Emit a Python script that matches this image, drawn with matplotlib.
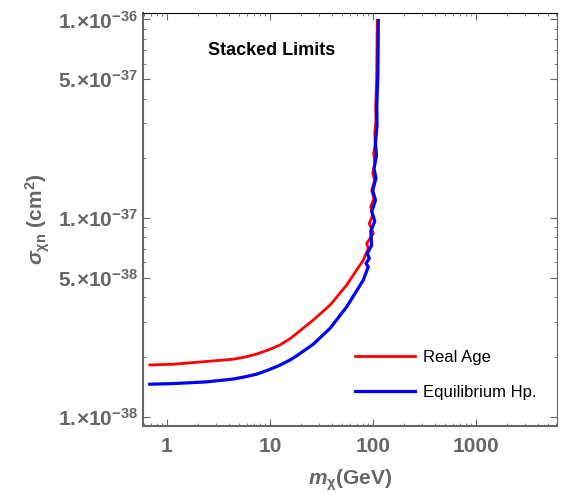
import matplotlib
matplotlib.use("Agg")
import numpy as np
import matplotlib.pyplot as plt
from matplotlib import ticker

# values (mass in GeV, cross section in cm^2)
real_mass = [0.684, 1.151, 2.43, 4.40, 5.72, 7.43, 9.63, 12.5, 15.6, 18.2,
             26.3, 38.3, 55.6, 80.5, 90.0,
             86.9, 100.7, 92.1, 99.3, 95.0, 102.3, 97.1, 103.9, 99.3, 104.5,
             101.6, 105.2, 103.9, 106.9, 106.2, 108.6, 110.1]
real_sigma = [1.825e-38, 1.84e-38, 1.90e-38, 1.95e-38, 2.00e-38, 2.07e-38,
              2.17e-38, 2.30e-38, 2.47e-38, 2.63e-38,
              3.07e-38, 3.65e-38, 4.61e-38, 6.15e-38, 7.04e-38,
              7.46e-38, 8.38e-38, 9.40e-38, 1.035e-37, 1.14e-37, 1.256e-37,
              1.38e-37, 1.55e-37, 1.68e-37, 1.88e-37, 2.11e-37, 2.37e-37,
              2.67e-37, 3.10e-37, 3.62e-37, 5.13e-37, 9.88e-37]

eq_mass = [0.684, 1.151, 2.43, 4.40, 5.72, 7.43, 9.63, 12.5, 15.6, 18.2,
           26.3, 38.3, 55.6, 80.5, 90.0, 85.5, 92.1, 88.1, 97.1,
           95.2, 104.2, 97.3, 105.7, 99.5, 106.9, 102.3, 108.1, 105.7, 109.4,
           108.9, 111.5, 112.7]
eq_sigma = [1.46e-38, 1.47e-38, 1.50e-38, 1.55e-38, 1.59e-38, 1.64e-38,
            1.72e-38, 1.82e-38, 1.93e-38, 2.03e-38,
            2.32e-38, 2.79e-38, 3.58e-38, 4.88e-38, 5.69e-38,
            5.92e-38, 6.27e-38, 6.65e-38, 7.31e-38,
            8.6e-38, 9.66e-38, 1.08e-37, 1.23e-37, 1.38e-37, 1.59e-37,
            1.78e-37, 2.07e-37, 2.38e-37, 2.93e-37, 3.70e-37, 5.24e-37,
            9.88e-37]

y_ticks = [1e-38, 5e-38, 1e-37, 5e-37, 1e-36]
x_ticks = [1, 10, 100, 1000]

plt.rcParams['font.family'] = ['Liberation Sans', 'DejaVu Sans']
plt.rcParams['mathtext.fontset'] = 'custom'
plt.rcParams['mathtext.rm'] = 'Liberation Sans:bold'
plt.rcParams['mathtext.bf'] = 'Liberation Sans:bold'
plt.rcParams['mathtext.it'] = 'Liberation Sans:italic:bold'
plt.rcParams['mathtext.default'] = 'bf'

gray = '#666666'

fig = plt.figure(figsize=(5.76, 4.93), dpi=100)
ax = fig.add_axes([0.248, 0.136, 0.719, 0.838])

ax.plot(real_mass, real_sigma, color='#ff0000', lw=2.0, label='Real Age')
ax.plot(eq_mass, eq_sigma, color='#0000ff', lw=2.3, label='Equilibrium Hp.')

ax.set_xscale('log')
ax.set_yscale('log')
ax.set_xlim(0.585, 6100)
ax.set_ylim(9.0e-39, 1.08e-36)


def sci_label(v, pos):
    exp = int(np.floor(np.log10(v) + 1e-9))
    mant = int(round(v / 10 ** exp))
    return r'$%d.\!{\times}10^{%d}$' % (mant, exp)


ax.yaxis.set_major_locator(ticker.FixedLocator(y_ticks))
ax.yaxis.set_major_formatter(ticker.FuncFormatter(sci_label))
ax.yaxis.set_minor_locator(ticker.LogLocator(base=10, subs=range(1, 10)))
ax.yaxis.set_minor_formatter(ticker.NullFormatter())
ax.xaxis.set_major_locator(ticker.FixedLocator(x_ticks))
ax.xaxis.set_major_formatter(ticker.FixedFormatter([str(v) for v in x_ticks]))
ax.xaxis.set_minor_locator(ticker.LogLocator(base=10, subs=range(2, 10)))
ax.xaxis.set_minor_formatter(ticker.NullFormatter())

ax.tick_params(which='both', direction='in', top=True, right=True,
               colors=gray, labelcolor=gray)
ax.tick_params(which='major', length=5, width=0.8, labelsize=15)
ax.tick_params(axis='x', which='major', pad=8)
ax.tick_params(which='minor', length=2.5, width=0.6)
for lab in ax.get_xticklabels() + ax.get_yticklabels():
    lab.set_fontweight('bold')

ax.spines['left'].set_color(gray)
ax.spines['left'].set_linewidth(1.5)
ax.spines['bottom'].set_color(gray)
ax.spines['bottom'].set_linewidth(1.5)
ax.spines['right'].set_color(gray)
ax.spines['top'].set_color('black')

ax.set_xlabel(r'$\mathit{m}_{\chi}\mathrm{(GeV)}$', fontsize=15, color=gray,
              labelpad=8)
ax.set_ylabel(r'$\mathit{\sigma}_{\chi\mathrm{n}}\ \mathrm{(cm^{2})}$',
              fontsize=15, color=gray)

ax.text(0.31, 0.909, 'Stacked Limits', transform=ax.transAxes,
        fontsize=13, fontweight='bold', ha='center', va='center')

ax.legend(loc='upper left', bbox_to_anchor=(0.512, 0.185), frameon=False,
          fontsize=12, handlelength=3.6, handletextpad=0.5,
          labelspacing=1.2, borderpad=0, borderaxespad=0)

fig.savefig('out.png', dpi=100)
